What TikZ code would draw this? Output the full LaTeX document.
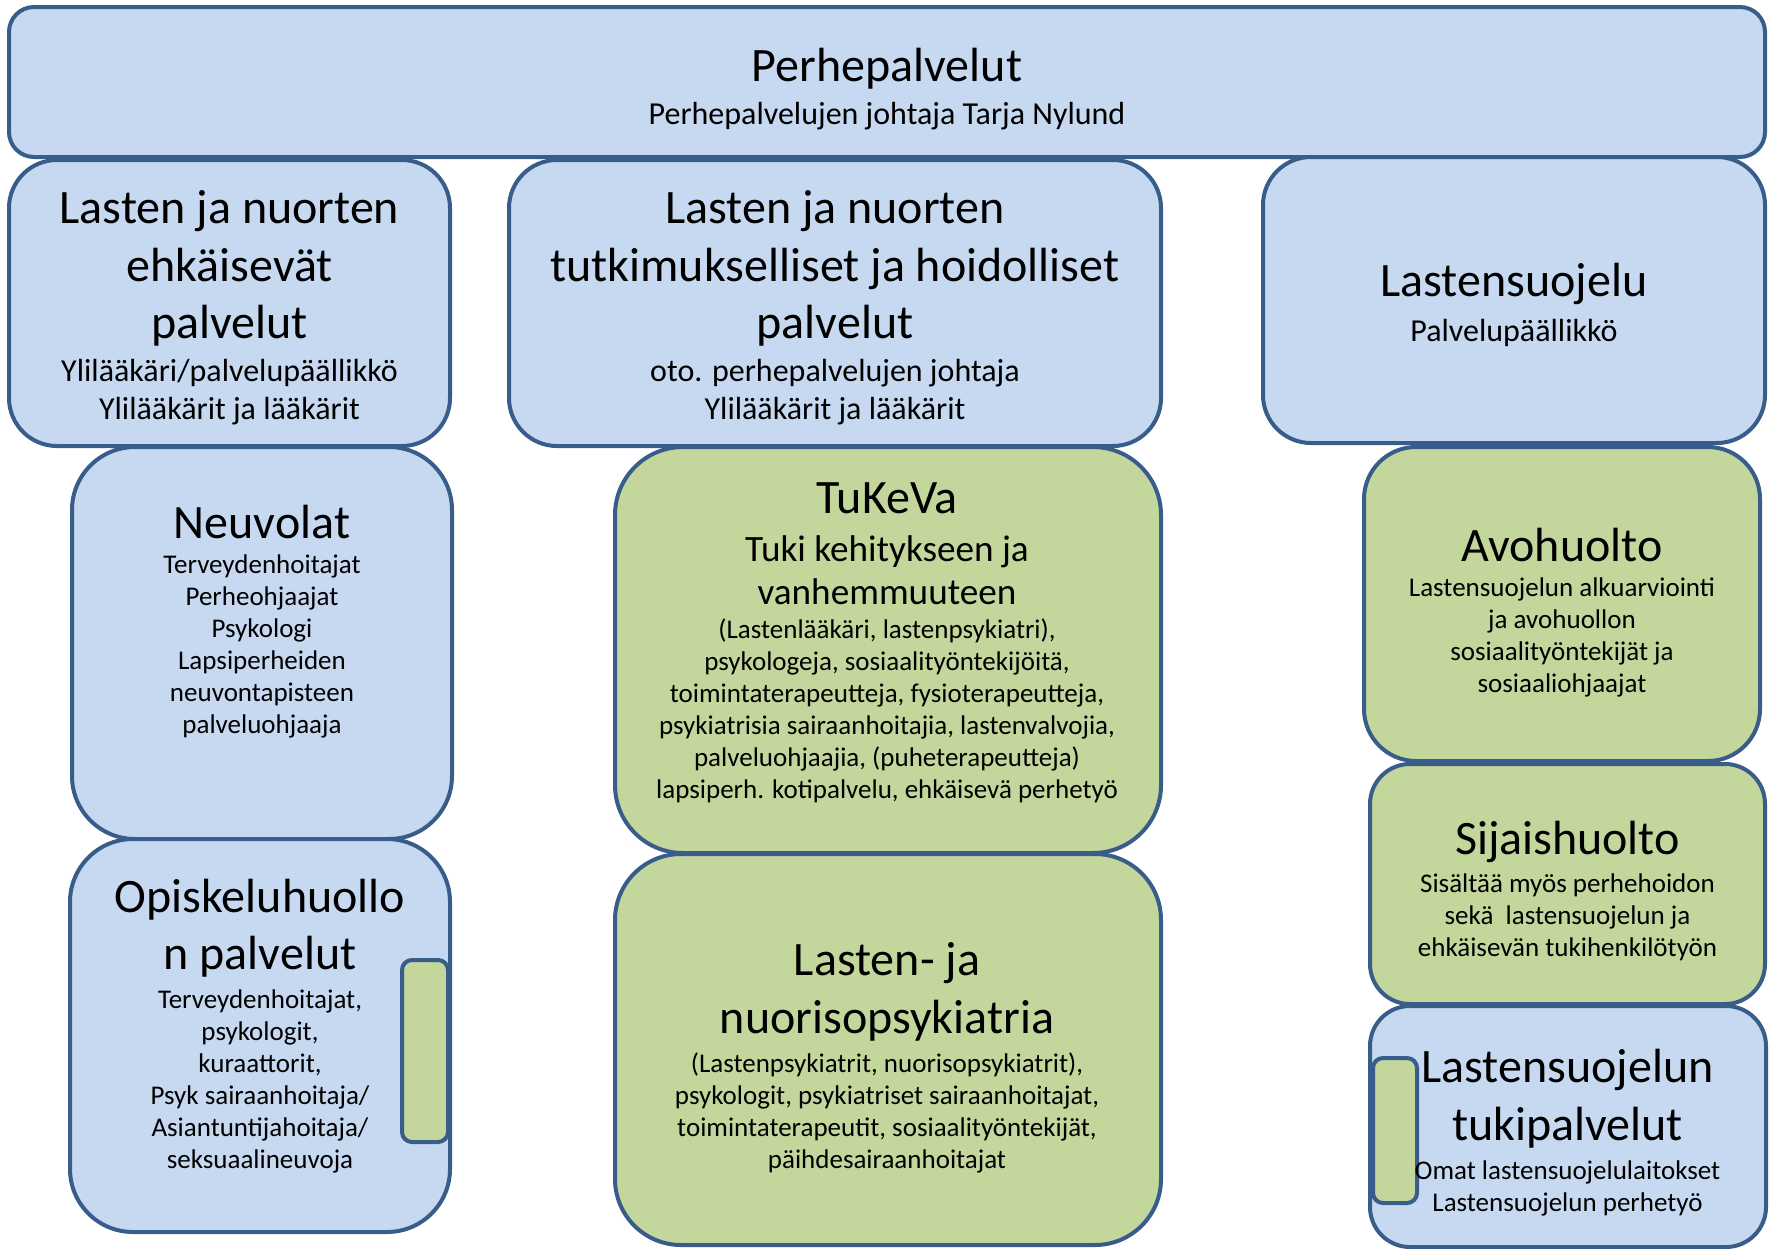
\documentclass[tikz,border=0pt]{standalone}
\usepackage{fontspec}
\setmainfont{Carlito}
\definecolor{bfill}{HTML}{C6D9F1}
\definecolor{gfill}{HTML}{C3D69B}
\definecolor{edge}{HTML}{385D8A}
\newcommand\fbig{\fontsize{24pt}{28.7pt}\selectfont}
\newcommand\fmid{\fontsize{16pt}{18.7pt}\selectfont}
\newcommand\fmed{\fontsize{18.6pt}{21.7pt}\selectfont}
\newcommand\fsml{\fontsize{13.5pt}{16pt}\selectfont}
\tikzset{
  shp/.style={draw=edge, line width=2pt, inner sep=0pt, outer sep=0pt, rectangle},
  bbox/.style={shp, fill=bfill},
  gbox/.style={shp, fill=gfill},
  txt/.style={align=center, inner sep=0pt, text=black, yshift=-1.5pt},
}
\begin{document}
\begin{tikzpicture}[x=0.5pt, y=-0.5pt]
\useasboundingbox (0,0) rectangle (1772,1248);
% boxes
\node[bbox, minimum width=878pt, minimum height=75pt, rounded corners=12.5pt] (top) at (887,82) {};
\node[bbox, minimum width=220.5pt, minimum height=143pt, rounded corners=24pt] (ehk) at (229.5,303) {};
\node[bbox, minimum width=326pt, minimum height=143pt, rounded corners=24pt] (tutk) at (835,303) {};
\node[bbox, minimum width=251pt, minimum height=143pt, rounded corners=24pt] (lsu) at (1514,300) {};
\node[bbox, minimum width=190pt, minimum height=196pt, rounded corners=31.5pt] (neuv) at (262,643) {};
\node[bbox, minimum width=190pt, minimum height=196.5pt, rounded corners=31.5pt] (opisk) at (260,1035.5) {};
\node[gbox, minimum width=23pt, minimum height=91pt, rounded corners=5pt] (gs1) at (425,1051) {};
\node[gbox, minimum width=273pt, minimum height=203pt, rounded corners=34pt] (tukeva) at (888,650) {};
\node[gbox, minimum width=273pt, minimum height=195.5pt, rounded corners=33pt] (lnp) at (888,1049.5) {};
\node[gbox, minimum width=198pt, minimum height=157pt, rounded corners=26pt] (avo) at (1562,604) {};
\node[gbox, minimum width=197.5pt, minimum height=120pt, rounded corners=20pt] (sij) at (1567.5,884) {};
\node[bbox, minimum width=198pt, minimum height=120.5pt, rounded corners=20pt] (tuki) at (1568,1126.5) {};
\node[gbox, minimum width=22pt, minimum height=72.5pt, rounded corners=5pt] (gs2) at (1395,1130.5) {};
% texts
\node[txt, font=\fbig] (topT) at (887,65.5) {Perhepalvelut};
\node[txt, font=\fmid] (topS) at (887,113) {Perhepalvelujen johtaja Tarja Nylund};

\node[txt, font=\fbig] (ehkT) at (229.5,265.6) {Lasten ja nuorten\\ ehkäisevät\\ palvelut};
\node[txt, font=\fmid] (ehkS) at (229.5,389.3) {Ylilääkäri/palvelupäällikkö\\ Ylilääkärit ja lääkärit};

\node[txt, font=\fbig] (tutkT) at (835,265.6) {Lasten ja nuorten\\ tutkimukselliset ja hoidolliset\\ palvelut};
\node[txt, font=\fmid] (tutkS) at (835,389.3) {oto. perhepalvelujen johtaja\\ Ylilääkärit ja lääkärit};

\node[txt, font=\fbig] (lsuT) at (1514,281.4) {Lastensuojelu};
\node[txt, font=\fmid] (lsuS) at (1514,330) {Palvelupäällikkö};

\node[txt, font=\fbig] (neuvT) at (262,518.7) {Neuvolat};
\node[txt, font=\fsml] (neuvS) at (262,643) {Terveydenhoitajat\\ Perheohjaajat\\ Psykologi\\ Lapsiperheiden\\ neuvontapisteen\\ palveluohjaaja};

\node[txt, font=\fbig] (opiskT) at (260,925) {Opiskeluhuollo\\ n palvelut};
\node[txt, font=\fsml] (opiskS) at (260,1078.7) {Terveydenhoitajat,\\ psykologit,\\ kuraattorit,\\ Psyk sairaanhoitaja/\\ Asiantuntijahoitaja/\\ seksuaalineuvoja};

\node[txt, font=\fbig] (tukevaT) at (887,495) {TuKeVa};
\node[txt, font=\fmed] (tukevaM) at (887,567.3) {Tuki kehitykseen ja\\ vanhemmuuteen};
\node[txt, font=\fsml] (tukevaS) at (887,708) {(Lastenlääkäri, lastenpsykiatri),\\ psykologeja, sosiaalityöntekijöitä,\\ toimintaterapeutteja, fysioterapeutteja,\\ psykiatrisia sairaanhoitajia, lastenvalvojia,\\ palveluohjaajia, (puheterapeutteja)\\ lapsiperh. kotipalvelu, ehkäisevä perhetyö};

\node[txt, font=\fbig] (lnpT) at (887,988.8) {Lasten- ja\\ nuorisopsykiatria};
\node[txt, font=\fsml] (lnpS) at (887,1109.7) {(Lastenpsykiatrit, nuorisopsykiatrit),\\ psykologit, psykiatriset sairaanhoitajat,\\ toimintaterapeutit, sosiaalityöntekijät,\\ päihdesairaanhoitajat};

\node[txt, font=\fbig] (avoT) at (1562,542.4) {Avohuolto};
\node[txt, font=\fsml] (avoS) at (1562,634.6) {Lastensuojelun alkuarviointi\\ ja avohuollon\\ sosiaalityöntekijät ja\\ sosiaaliohjaajat};

\node[txt, font=\fbig] (sijT) at (1567.5,838.5) {Sijaishuolto};
\node[txt, font=\fsml] (sijS) at (1567.5,914.3) {Sisältää myös perhehoidon\\ sekä \ lastensuojelun ja\\ ehkäisevän tukihenkilötyön};

\node[txt, font=\fbig] (tukiT) at (1567.5,1095.6) {Lastensuojelun\\ tukipalvelut};
\node[txt, font=\fsml] (tukiS) at (1567.5,1185.5) {Omat lastensuojelulaitokset\\ Lastensuojelun perhetyö};
\end{tikzpicture}
\end{document}
